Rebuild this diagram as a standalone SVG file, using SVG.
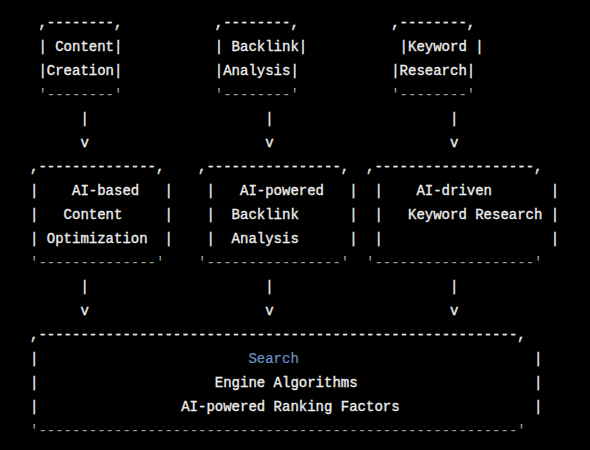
<svg xmlns="http://www.w3.org/2000/svg" width="590" height="450" viewBox="0 0 590 450">
<style>
text{font-family:"Liberation Mono","DejaVu Sans Mono",monospace;font-size:14px;fill:#ececec;stroke:#ececec;stroke-width:0.35px;white-space:pre}
.s{fill:#93ab9e;stroke:none}
.k{fill:#6f93c9;stroke:#6f93c9;stroke-width:0.2px}
</style>
<rect width="590" height="450" fill="#000"/>
<g id="content-creation">
<text x="38.4" y="26.7" xml:space="preserve">,--------,</text>
<text x="38.4" y="50.7" xml:space="preserve">| Content|</text>
<text x="38.4" y="74.7" xml:space="preserve">|Creation|</text>
<text class="s" x="38.4" y="98.7" xml:space="preserve">'--------'</text>
</g>
<g id="backlink-analysis">
<text x="214.8" y="26.7" xml:space="preserve">,--------,</text>
<text x="214.8" y="50.7" xml:space="preserve">| Backlink|</text>
<text x="214.8" y="74.7" xml:space="preserve">|Analysis|</text>
<text class="s" x="214.8" y="98.7" xml:space="preserve">'--------'</text>
</g>
<g id="keyword-research">
<text x="391.2" y="26.7" xml:space="preserve">,--------,</text>
<text x="399.6" y="50.7" xml:space="preserve">|Keyword |</text>
<text x="391.2" y="74.7" xml:space="preserve">|Research|</text>
<text class="s" x="391.2" y="98.7" xml:space="preserve">'--------'</text>
</g>
<g id="ai-content-optimization">
<text x="30" y="170.7" xml:space="preserve">,--------------,</text>
<text x="30" y="194.7" xml:space="preserve">|    AI-based   |</text>
<text x="30" y="218.7" xml:space="preserve">|   Content     |</text>
<text x="30" y="242.7" xml:space="preserve">| Optimization  |</text>
<text class="s" x="30" y="266.7" xml:space="preserve">'--------------'</text>
</g>
<g id="ai-backlink-analysis">
<text x="198" y="170.7" xml:space="preserve">,----------------,</text>
<text x="206.4" y="194.7" xml:space="preserve">|   AI-powered   |</text>
<text x="206.4" y="218.7" xml:space="preserve">|  Backlink      |</text>
<text x="206.4" y="242.7" xml:space="preserve">|  Analysis      |</text>
<text class="s" x="198" y="266.7" xml:space="preserve">'----------------'</text>
</g>
<g id="ai-keyword-research">
<text x="366" y="170.7" xml:space="preserve">,-------------------,</text>
<text x="374.4" y="194.7" xml:space="preserve">|    AI-driven       |</text>
<text x="374.4" y="218.7" xml:space="preserve">|   Keyword Research |</text>
<text x="374.4" y="242.7" xml:space="preserve">|                    |</text>
<text class="s" x="366" y="266.7" xml:space="preserve">'-------------------'</text>
</g>
<g id="search-engine-algorithms">
<text x="30" y="338.7" xml:space="preserve">,---------------------------------------------------------,</text>
<text x="30" y="362.7">|</text>
<text x="30" y="386.7">|</text>
<text x="30" y="410.7">|</text>
<text x="534" y="362.7">|</text>
<text x="534" y="386.7">|</text>
<text x="534" y="410.7">|</text>
<text class="k" x="248.4" y="362.7">Search</text>
<text x="214.8" y="386.7">Engine Algorithms</text>
<text x="181.2" y="410.7">AI-powered Ranking Factors</text>
<text class="s" x="30" y="434.7" xml:space="preserve">'---------------------------------------------------------'</text>
</g>
<g id="connectors">
<text x="80.4" y="122.7">|</text>
<text x="80.4" y="146.7">v</text>
<text x="265.2" y="122.7">|</text>
<text x="265.2" y="146.7">v</text>
<text x="450" y="122.7">|</text>
<text x="450" y="146.7">v</text>
<text x="80.4" y="290.7">|</text>
<text x="80.4" y="314.7">v</text>
<text x="265.2" y="290.7">|</text>
<text x="265.2" y="314.7">v</text>
<text x="450" y="290.7">|</text>
<text x="450" y="314.7">v</text>
</g>
</svg>
